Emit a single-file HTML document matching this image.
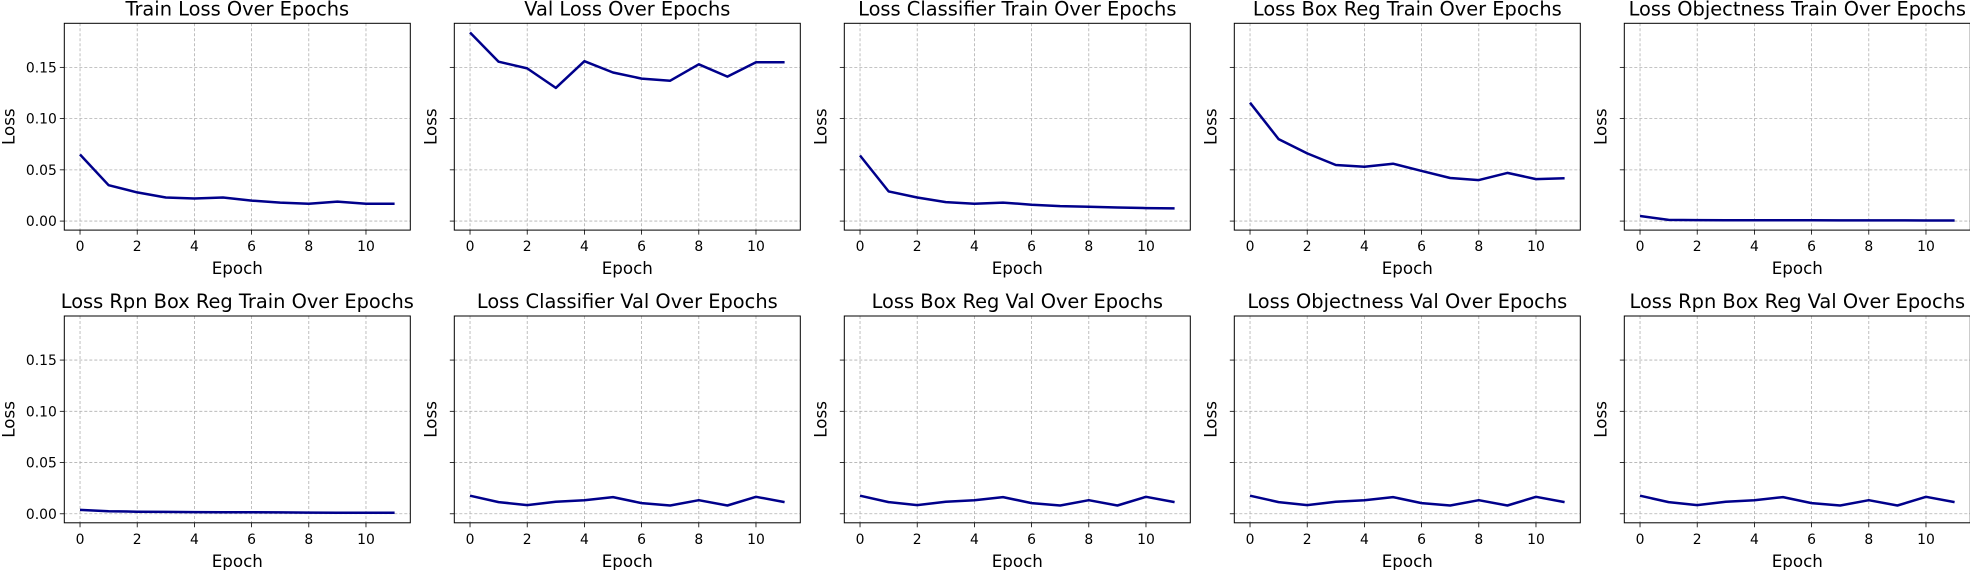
<!DOCTYPE html>
<html><head><meta charset="utf-8"><style>
html,body{margin:0;padding:0;background:#fff;}
svg{display:block;font-family:"DejaVu Sans","Liberation Sans",sans-serif;}
</style></head><body>
<svg id="fig" width="1970" height="570" viewBox="0 0 1970 570" xmlns="http://www.w3.org/2000/svg"></svg>
<script>
const epochs = [0,1,2,3,4,5,6,7,8,9,10,11];
const titles = ["Train Loss Over Epochs","Val Loss Over Epochs","Loss Classifier Train Over Epochs","Loss Box Reg Train Over Epochs","Loss Objectness Train Over Epochs","Loss Rpn Box Reg Train Over Epochs","Loss Classifier Val Over Epochs","Loss Box Reg Val Over Epochs","Loss Objectness Val Over Epochs","Loss Rpn Box Reg Val Over Epochs"];
const trainLoss = [0.065,0.035,0.028,0.023,0.022,0.023,0.020,0.018,0.017,0.019,0.017,0.017];
const valLoss = [0.184,0.1555,0.149,0.130,0.156,0.145,0.139,0.137,0.153,0.141,0.155,0.155];
const clsTrain = [0.064,0.029,0.023,0.0185,0.017,0.018,0.016,0.0146,0.014,0.0133,0.0127,0.0124];
const boxTrain = [0.1155,0.080,0.066,0.0547,0.053,0.056,0.049,0.042,0.040,0.047,0.041,0.0417];
const objTrain = [0.005,0.0012,0.001,0.0009,0.0008,0.0009,0.0008,0.0007,0.0007,0.0007,0.0006,0.0006];
const rpnTrain = [0.0038,0.0025,0.002,0.0018,0.0016,0.0015,0.0014,0.0013,0.0012,0.0011,0.001,0.001];
const clsVal = [0.0176,0.0114,0.0085,0.0117,0.0133,0.0163,0.0104,0.0081,0.0133,0.0081,0.0166,0.0114];
const boxVal = [0.0176,0.0114,0.0085,0.0117,0.0133,0.0163,0.0104,0.0081,0.0133,0.0081,0.0166,0.0114];
const objVal = [0.0176,0.0114,0.0085,0.0117,0.0133,0.0163,0.0104,0.0081,0.0133,0.0081,0.0166,0.0114];
const rpnVal = [0.0176,0.0114,0.0085,0.0117,0.0133,0.0163,0.0104,0.0081,0.0133,0.0081,0.0166,0.0114];
const series = [trainLoss,valLoss,clsTrain,boxTrain,objTrain,rpnTrain,clsVal,boxVal,objVal,rpnVal];
const yTicks = [0,0.05,0.10,0.15];
const yTickLabels = ["0.00","0.05","0.10","0.15"];
const xTicks = [0,2,4,6,8,10];

const NS="http://www.w3.org/2000/svg";
const svg=document.getElementById('fig');
function mk(tag,attrs,parent){const e=document.createElementNS(NS,tag);for(const k in attrs)e.setAttribute(k,attrs[k]);(parent||svg).appendChild(e);return e;}
const W=346, xmin=-0.55, xmax=11.55, ymin=-0.0088, ymax=0.193;
const lefts=[64.3,454.3,844.3,1234.3,1624.3];
const tops=[23.3,316];
const H=206.8;
titles.forEach((t,i)=>{
  const L=lefts[i%5], T=tops[Math.floor(i/5)], B=T+H;
  const g=mk('g',{});
  
  
  const sx=v=>L+(v-xmin)/(xmax-xmin)*W;
  const sy=v=>B-(v-ymin)/(ymax-ymin)*H;
  xTicks.forEach(v=>{
    const gl=mk('line',{x1:sx(v),x2:sx(v),y1:T,y2:B,stroke:'#b0b0b0','stroke-width':0.8,'stroke-dasharray':'3,2'},g);
    
    
    mk('line',{x1:sx(v),x2:sx(v),y1:B,y2:B+4.5,stroke:'#000','stroke-width':0.8},g);
    const tx=mk('text',{x:sx(v),y:B+21,'text-anchor':'middle','font-size':13.9,fill:'#000'},g);
    tx.textContent=v;
    
    
  });
  yTicks.forEach((v,k)=>{
    const gl=mk('line',{x1:L,x2:L+W,y1:sy(v),y2:sy(v),stroke:'#b0b0b0','stroke-width':0.8,'stroke-dasharray':'3,2'},g);
    
    
    mk('line',{x1:L-4.5,x2:L,y1:sy(v),y2:sy(v),stroke:'#000','stroke-width':0.8},g);
    if(i%5===0){
      const ty=mk('text',{x:L-7.5,y:sy(v)+5,'text-anchor':'end','font-size':13.9,fill:'#000'},g);
      ty.textContent=yTickLabels[k];
      
      
    }
  });
  const pts=series[i].map((v,j)=>sx(epochs[j]).toFixed(1)+','+sy(v).toFixed(1)).join(' ');
  const pl=mk('polyline',{points:pts,fill:'none',stroke:'#00008b','stroke-width':2.5,'stroke-linejoin':'round'},g);
  
  
  const fr=mk('rect',{x:L,y:T,width:W,height:H,fill:'none',stroke:'#000','stroke-width':1},g);
  
  
  const ti=mk('text',{x:L+W/2,y:T-8,'text-anchor':'middle','font-size':19.4,fill:'#000'},g);
  ti.textContent=t;
  
  
  const xl=mk('text',{x:L+W/2,y:B+44,'text-anchor':'middle','font-size':16.7,fill:'#000'},g);
  xl.textContent='Epoch';
  
  
  const yx=(i%5===0)?L-50:L-18;
  const yl=mk('text',{x:yx,y:T+H/2,'text-anchor':'middle','font-size':16.7,fill:'#000',transform:`rotate(-90 ${yx} ${T+H/2})`},g);
  yl.textContent='Loss';
  
  
});
</script>
</body></html>
